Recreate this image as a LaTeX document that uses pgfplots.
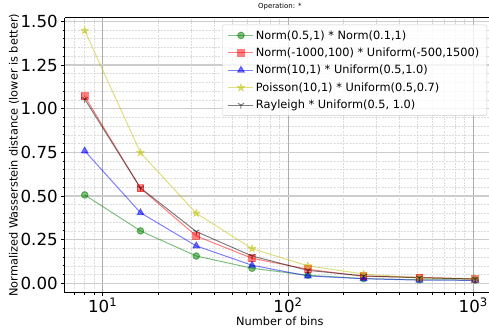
\documentclass[border=0pt]{standalone}
\usepackage{pgfplots}
\pgfplotsset{compat=1.18}
\usepackage{pgfplotstable}
\usetikzlibrary{plotmarks}
\usepackage{fontspec}
\setmainfont{DejaVu Sans}
\definecolor{cg}{RGB}{0,128,0}
\definecolor{cr}{RGB}{255,0,0}
\definecolor{cb}{RGB}{0,0,255}
\definecolor{cy}{RGB}{191,191,0}
\definecolor{ck}{RGB}{0,0,0}
\pgfdeclareplotmark{fstar}{%
  \pgfpathmoveto{\pgfqpointpolar{90}{\pgfplotmarksize}}%
  \pgfpathlineto{\pgfqpointpolar{126}{0.4\pgfplotmarksize}}%
  \pgfpathlineto{\pgfqpointpolar{162}{\pgfplotmarksize}}%
  \pgfpathlineto{\pgfqpointpolar{198}{0.4\pgfplotmarksize}}%
  \pgfpathlineto{\pgfqpointpolar{234}{\pgfplotmarksize}}%
  \pgfpathlineto{\pgfqpointpolar{270}{0.4\pgfplotmarksize}}%
  \pgfpathlineto{\pgfqpointpolar{306}{\pgfplotmarksize}}%
  \pgfpathlineto{\pgfqpointpolar{342}{0.4\pgfplotmarksize}}%
  \pgfpathlineto{\pgfqpointpolar{18}{\pgfplotmarksize}}%
  \pgfpathlineto{\pgfqpointpolar{54}{0.4\pgfplotmarksize}}%
  \pgfpathclose
  \pgfusepathqfillstroke}
\pgfplotstableread{
bins green red blue yellow gray
8    0.506 1.071 0.758 1.447 1.055
16   0.300 0.544 0.404 0.748 0.546
32   0.156 0.271 0.214 0.401 0.296
64   0.086 0.143 0.103 0.198 0.156
128  0.046 0.080 0.042 0.100 0.074
256  0.027 0.040 0.026 0.053 0.042
512  0.020 0.034 0.018 0.030 0.032
1024 0.018 0.025 0.017 0.025 0.024
}\data
\begin{document}
\begin{tikzpicture}
\path[use as bounding box] (-64.7bp,-36.3bp) rectangle (424.3bp,292.7bp);
\begin{axis}[
  at={(0,0)}, anchor=south west,
  scale only axis, width=424.3bp, height=274.7bp,
  xmode=log, xmin=6.24, xmax=1216, ymin=-0.054, ymax=1.519,
  axis x line=box, axis y line*=left,
  axis line style={black, line width=1bp},
  xtick={10,100,1000},
  xticklabels={10\textsuperscript{1},10\textsuperscript{2},10\textsuperscript{3}},
  minor xtick={7,8,9,20,30,40,50,60,70,80,90,200,300,400,500,600,700,800,900},
  xtick pos=left,
  ytick={0,0.25,0.5,0.75,1,1.25,1.5},
  minor y tick num=4,
  yticklabel style={/pgf/number format/.cd, fixed, fixed zerofill, precision=2},
  xticklabel style={inner sep=0pt, yshift=-1.5bp},
  /pgf/number format/assume math mode=true,
  tick align=outside,
  major tick length=3.5bp, minor tick length=2bp,
  tick style={black, line width=0.8bp},
  ticklabel style={font=\fontsize{16.7}{18}\selectfont},
  grid=both,
  major x grid style={color=black!32, line width=0.8bp},
  major y grid style={color=black!20, line width=1.5bp},
  minor grid style={color=black!14, dash pattern=on 2bp off 1.2bp, line width=0.6bp},
  title={Operation: *},
  title style={at={([xshift=3bp]rel axis cs:0.5,1)}, anchor=south, inner sep=0pt, yshift=1.5bp, font=\fontsize{7}{8}\selectfont},
  xlabel={Number of bins},
  ylabel={Normalized Wasserstein distance (lower is better)},
  label style={font=\fontsize{11.4}{13}\selectfont},
  xlabel style={at={([xshift=3bp,yshift=-28.5bp]rel axis cs:0.5,0)}, anchor=center, inner sep=0pt},
  ylabel style={at={([xshift=-50.7bp]rel axis cs:0,0.5)}, anchor=center, rotate=0, inner sep=0pt},
  legend style={at={(rel axis cs:1,1)}, anchor=north east, xshift=-2bp, yshift=-6.7bp,
    draw=black!20, rounded corners=2bp, fill=white, fill opacity=0.8, text opacity=1,
    font=\fontsize{11.4}{13}\selectfont, row sep=3.3bp, inner xsep=5.5bp, inner ysep=3.5bp},
  legend cell align=left,
  legend image code/.code={\draw[mark repeat=2,mark phase=2,#1] plot coordinates {(0bp,0bp) (12.5bp,0bp) (25bp,0bp)};},
  every axis plot/.append style={line width=1bp, opacity=0.5},
]
\addplot[color=cg, mark=*, mark size=3.3bp, mark options={solid, fill=cg}] table[x=bins,y=green] {\data};
\addlegendentry{Norm(0.5,1) * Norm(0.1,1)}
\addplot[color=cr, mark=square*, mark size=3.3bp, mark options={solid, fill=cr}] table[x=bins,y=red] {\data};
\addlegendentry{Norm(-1000,100) * Uniform(-500,1500)}
\addplot[color=cb, mark=triangle*, mark size=3.8bp, mark options={solid, fill=cb}] table[x=bins,y=blue] {\data};
\addlegendentry{Norm(10,1) * Uniform(0.5,1.0)}
\addplot[color=cy, mark=fstar, mark size=4bp, mark options={solid, fill=cy, line width=0.5bp}] table[x=bins,y=yellow] {\data};
\addlegendentry{Poisson(10,1) * Uniform(0.5,0.7)}
\addplot[color=ck, mark=Mercedes star flipped, mark size=3.5bp, mark options={solid}] table[x=bins,y=gray] {\data};
\addlegendentry{Rayleigh * Uniform(0.5, 1.0)}
\end{axis}
\end{tikzpicture}
\end{document}
